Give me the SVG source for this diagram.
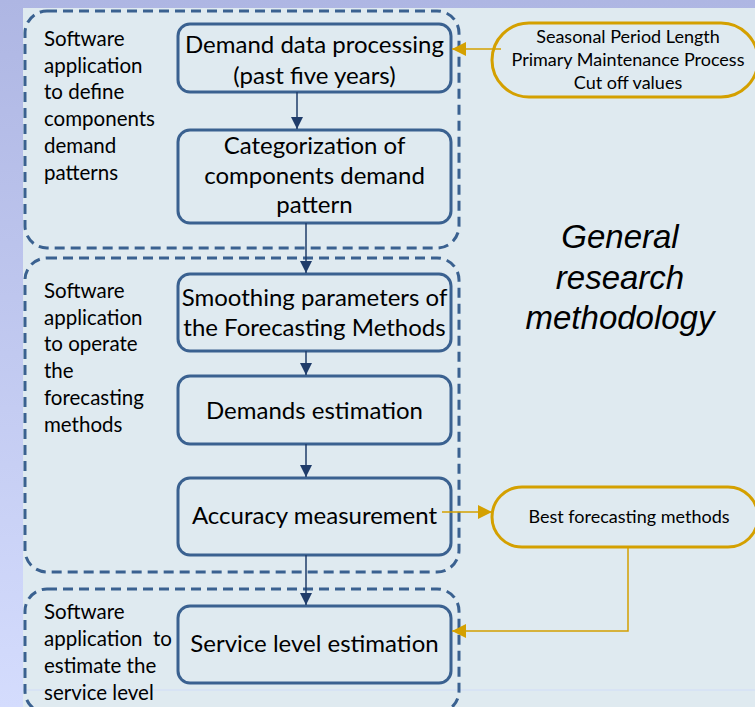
<svg xmlns="http://www.w3.org/2000/svg" width="755" height="707" viewBox="0 0 755 707">
<defs>
<linearGradient id="bg" x1="0" y1="0" x2="0" y2="1">
<stop offset="0" stop-color="#aeb6e3"/>
<stop offset="1" stop-color="#d4dcfd"/>
</linearGradient>
<marker id="navy" viewBox="0 0 12 12" refX="12" refY="6" markerWidth="12" markerHeight="12" markerUnits="userSpaceOnUse" orient="auto">
<path d="M0,0 L12,6 L0,12 Z" fill="#1f3c6a"/>
</marker>
<marker id="gold" viewBox="0 0 14 14" refX="14" refY="7" markerWidth="14" markerHeight="14" markerUnits="userSpaceOnUse" orient="auto">
<path d="M0,0 L14,7 L0,14 Z" fill="#d4a000"/>
</marker>
<style>
.grp{fill:none;stroke:#3a6190;stroke-width:3;stroke-dasharray:10 6}
.node{fill:none;stroke:#3a6190;stroke-width:3}
.obox{fill:none;stroke:#d4a000;stroke-width:3}
.nt{font-family:Lato,"Open Sans",sans-serif;font-size:24px;fill:#000;text-anchor:middle}
.lt{font-family:Lato,"Open Sans",sans-serif;font-size:20.5px;fill:#000}
.ot{font-family:Lato,"Open Sans",sans-serif;font-size:18px;fill:#000;text-anchor:middle}
.big{font-family:"Liberation Sans",Arial,sans-serif;font-size:33px;font-style:italic;fill:#000;text-anchor:middle}
.nv{fill:none;stroke:#1f3c6a;stroke-width:1.5}
.gd{fill:none;stroke:#d4a000;stroke-width:1.5}
</style>
</defs>
<rect x="0" y="0" width="755" height="707" fill="url(#bg)"/>
<rect x="23" y="8" width="732" height="699" fill="#dfeaf0"/>
<line x1="23" y1="690" x2="755" y2="690" stroke="#d0dcf8" stroke-width="1"/>

<g id="group1">
<rect class="grp" x="25" y="11" width="434" height="237" rx="22"/>
<text class="lt" x="44" y="46">Software</text>
<text class="lt" x="44" y="72.7">application</text>
<text class="lt" x="44" y="99.4">to define</text>
<text class="lt" x="44" y="126">components</text>
<text class="lt" x="44" y="152.8">demand</text>
<text class="lt" x="44" y="179.5">patterns</text>
</g>
<g id="group2">
<rect class="grp" x="25" y="258" width="434" height="314" rx="22"/>
<text class="lt" x="44" y="298">Software</text>
<text class="lt" x="44" y="325">application</text>
<text class="lt" x="44" y="351">to operate</text>
<text class="lt" x="44" y="378">the</text>
<text class="lt" x="44" y="405">forecasting</text>
<text class="lt" x="44" y="432">methods</text>
</g>
<g id="group3">
<rect class="grp" x="25" y="589" width="434" height="124" rx="22"/>
<text class="lt" x="44" y="619">Software</text>
<text class="lt" x="44" y="646" xml:space="preserve">application  to</text>
<text class="lt" x="44" y="673">estimate the</text>
<text class="lt" x="44" y="700">service level</text>
</g>

<g id="n1">
<rect class="node" x="178" y="24" width="273" height="68" rx="12"/>
<text class="nt" x="314.5" y="53">Demand data processing</text>
<text class="nt" x="314.5" y="84">(past five years)</text>
</g>
<g id="n2">
<rect class="node" x="178" y="130" width="273" height="93" rx="12"/>
<text class="nt" x="314.5" y="154">Categorization of</text>
<text class="nt" x="314.5" y="184">components demand</text>
<text class="nt" x="314.5" y="213">pattern</text>
</g>
<g id="n3">
<rect class="node" x="178" y="274" width="273" height="77" rx="12"/>
<text class="nt" x="314.5" y="306">Smoothing parameters of</text>
<text class="nt" x="314.5" y="336">the Forecasting Methods</text>
</g>
<g id="n4">
<rect class="node" x="178" y="376" width="273" height="68" rx="12"/>
<text class="nt" x="314.5" y="419">Demands estimation</text>
</g>
<g id="n5">
<rect class="node" x="178" y="478" width="273" height="77" rx="12"/>
<text class="nt" x="314.5" y="524">Accuracy measurement</text>
</g>
<g id="n6">
<rect class="node" x="178" y="606" width="273" height="77" rx="12"/>
<text class="nt" x="314.5" y="652">Service level estimation</text>
</g>
<g id="inputs">
<rect class="obox" x="492" y="23" width="266" height="74" rx="37"/>
<text class="ot" x="628" y="43">Seasonal Period Length</text>
<text class="ot" x="628" y="66">Primary Maintenance Process</text>
<text class="ot" x="628" y="89">Cut off values</text>
</g>
<g id="best">
<rect class="obox" x="492" y="487" width="266" height="60" rx="30"/>
<text class="ot" x="629" y="523">Best forecasting methods</text>
</g>
<g id="title">
<text class="big" x="620" y="248">General</text>
<text class="big" x="620" y="289">research</text>
<text class="big" x="620" y="329">methodology</text>
</g>

<g id="connectors">
<line class="nv" x1="297" y1="92" x2="297" y2="129" marker-end="url(#navy)"/>
<line class="nv" x1="306" y1="223" x2="306" y2="273" marker-end="url(#navy)"/>
<line class="nv" x1="306" y1="351" x2="306" y2="375" marker-end="url(#navy)"/>
<line class="nv" x1="306" y1="444" x2="306" y2="477" marker-end="url(#navy)"/>
<line class="nv" x1="306" y1="555" x2="306" y2="605" marker-end="url(#navy)"/>
<line class="gd" x1="501" y1="49" x2="452" y2="49" marker-end="url(#gold)"/>
<line class="gd" x1="442" y1="512" x2="492" y2="512" marker-end="url(#gold)"/>
<path class="gd" d="M628,547 V631 H452" marker-end="url(#gold)"/>
</g>
</svg>
